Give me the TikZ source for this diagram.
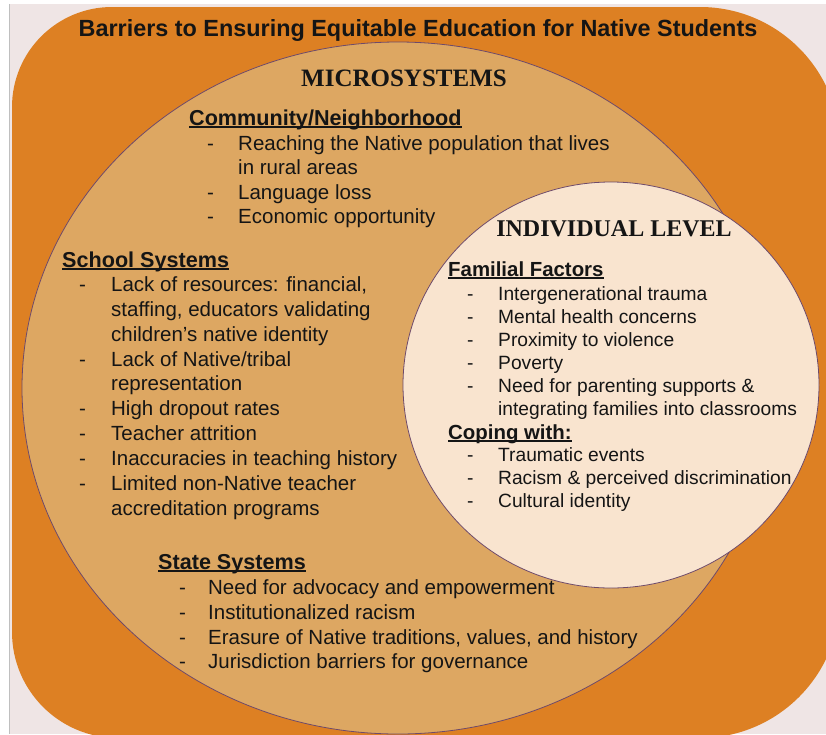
\documentclass[tikz,border=0pt]{standalone}
\usepackage{fontspec}
\setmainfont{Liberation Sans}
\newfontfamily\tnr{Liberation Serif}
\definecolor{bgc}{HTML}{EFE5E5}
\definecolor{orng}{HTML}{DD8023}
\definecolor{tan}{HTML}{DDA762}
\definecolor{cream}{HTML}{F9E4CF}
\definecolor{edge}{HTML}{6E4A6A}
\definecolor{ink}{HTML}{151515}
\newcommand\myul[1]{\setbox0\hbox{#1}\rlap{\rule[-2.9pt]{\wd0}{1.6pt}}\box0}
\newcommand\dsh[1]{\makebox[#1][l]{-}}
\begin{document}
\begin{tikzpicture}[x=1pt,y=-1pt,
  txt/.style={anchor=base west,inner sep=0pt,text=ink},
  title/.style={txt,anchor=base,font=\fontsize{23.4}{26}\selectfont\bfseries},
  lvl/.style={txt,anchor=base,font=\fontsize{25}{28}\selectfont\tnr\bfseries},
  head/.style={txt,font=\fontsize{21.6}{24}\selectfont\bfseries},
  body/.style={txt,font=\fontsize{20.5}{24}\selectfont},
  ihead/.style={txt,font=\fontsize{20.4}{24}\selectfont\bfseries},
  ibody/.style={txt,font=\fontsize{19.2}{23}\selectfont}]
\useasboundingbox (0,0) rectangle (826,734);
\fill[bgc] (0,0) rectangle (826,734);
\fill[white] (0,0) rectangle (9,734);
\fill[white] (0,0) rectangle (826,4);
\draw[gray!50,line width=0.6pt] (9,4) -- (9,734);
% orange rounded panel
\fill[orng] (12,107) arc[start angle=180,end angle=270,radius=100]
  -- (700,7) arc[start angle=270,end angle=360,radius=140]
  -- (840,598) arc[start angle=0,end angle=90,radius=140]
  -- (118,738) arc[start angle=90,end angle=180,radius=106] -- cycle;
% microsystems ellipse
\draw[fill=tan,draw=edge,line width=0.8pt] (398,388) ellipse[x radius=376,y radius=346];
% individual circle
\draw[fill=cream,draw=edge,line width=0.8pt] (611,385) ellipse[x radius=208,y radius=203];

\node[title] (t) at (418,36) {Barriers to Ensuring Equitable Education for Native Students};
\node[lvl] (micro) at (404,86) {MICROSYSTEMS};
\node[lvl,font=\fontsize{24}{28}\selectfont\tnr\bfseries] (indiv) at (614,236) {INDIVIDUAL LEVEL};

% Community
\node[head] (ch) at (189,125) {\myul{Community/Neighborhood}};
\node[body] (c1) at (207,150) {\dsh{31pt}Reaching the Native population that lives};
\node[body] (c1b) at (238,174) {in rural areas};
\node[body] (c2) at (207,199) {\dsh{31pt}Language loss};
\node[body] (c3) at (207,223) {\dsh{31pt}Economic opportunity};

% School
\node[head] (sh) at (62,267) {\myul{School Systems}};
\node[body] (s1) at (79,291) {\dsh{32pt}Lack of resources: financial,};
\node[body] (s1b) at (111,316) {staffing, educators validating};
\node[body] (s1c) at (111,341) {children’s native identity};
\node[body] (s2) at (79,366) {\dsh{32pt}Lack of Native/tribal};
\node[body] (s2b) at (111,390) {representation};
\node[body] (s3) at (79,415) {\dsh{32pt}High dropout rates};
\node[body] (s4) at (79,440) {\dsh{32pt}Teacher attrition};
\node[body] (s5) at (79,465) {\dsh{32pt}Inaccuracies in teaching history};
\node[body] (s6) at (79,490) {\dsh{32pt}Limited non-Native teacher};
\node[body] (s6b) at (111,515) {accreditation programs};

% State
\node[head] (th) at (158,569) {\myul{State Systems}};
\node[body] (t1) at (179,594) {\dsh{29pt}Need for advocacy and empowerment};
\node[body] (t2) at (179,619) {\dsh{29pt}Institutionalized racism};
\node[body] (t3) at (179,644) {\dsh{29pt}Erasure of Native traditions, values, and history};
\node[body] (t4) at (179,668) {\dsh{29pt}Jurisdiction barriers for governance};

% Familial
\node[ihead] (fh) at (448,276) {\myul{Familial Factors}};
\node[ibody] (f1) at (467,300) {\dsh{31pt}Intergenerational trauma};
\node[ibody] (f2) at (467,323) {\dsh{31pt}Mental health concerns};
\node[ibody] (f3) at (467,346) {\dsh{31pt}Proximity to violence};
\node[ibody] (f4) at (467,369) {\dsh{31pt}Poverty};
\node[ibody] (f5) at (467,392) {\dsh{31pt}Need for parenting supports \&};
\node[ibody] (f5b) at (498,415) {integrating families into classrooms};

% Coping
\node[ihead] (gh) at (448,439) {\myul{Coping with:}};
\node[ibody] (g1) at (467,461) {\dsh{31pt}Traumatic events};
\node[ibody] (g2) at (467,484) {\dsh{31pt}Racism \& perceived discrimination};
\node[ibody] (g3) at (467,507) {\dsh{31pt}Cultural identity};
\end{tikzpicture}
\end{document}
